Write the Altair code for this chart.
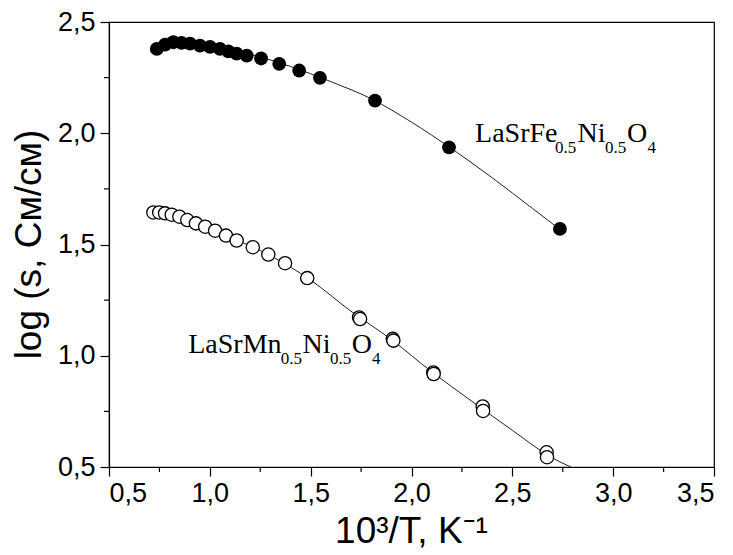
import altair as alt
import pandas as pd

# LaSrFe0.5Ni0.5O4 (filled circles)
filled_x = [0.737, 0.778, 0.819, 0.860, 0.902, 0.951, 1.001, 1.050, 1.092, 1.133,
            1.183, 1.254, 1.344, 1.443, 1.546, 1.819, 2.186, 2.736]
filled_y = [2.379, 2.398, 2.409, 2.406, 2.403, 2.394, 2.388, 2.379, 2.368, 2.358,
            2.349, 2.336, 2.312, 2.282, 2.249, 2.147, 1.937, 1.570]

# LaSrMn0.5Ni0.5O4 (open circles)
open_x = [0.720, 0.749, 0.778, 0.811, 0.849, 0.888, 0.931, 0.977, 1.026, 1.080,
          1.133, 1.213, 1.290, 1.373, 1.483, 1.740, 1.745, 1.907, 1.910, 2.108,
          2.110, 2.353, 2.355, 2.670, 2.672]
open_y = [1.644, 1.644, 1.640, 1.634, 1.625, 1.610, 1.595, 1.580, 1.562, 1.540,
          1.518, 1.488, 1.455, 1.416, 1.349, 1.172, 1.165, 1.076, 1.068, 0.925,
          0.918, 0.772, 0.752, 0.566, 0.544]

# fitted curves
fit1_x = [0.737, 0.85, 1.0, 1.2, 1.4, 1.6, 1.8, 2.0, 2.2, 2.4, 2.6, 2.74]
fit1_y = [2.392, 2.405, 2.392, 2.355, 2.300, 2.232, 2.155, 2.050, 1.930, 1.800, 1.662, 1.565]
fit2_x = [0.72, 0.9, 1.1, 1.3, 1.5, 1.7, 1.9, 2.1, 2.3, 2.5, 2.7, 2.79]
fit2_y = [1.645, 1.607, 1.533, 1.450, 1.340, 1.200, 1.073, 0.928, 0.795, 0.665, 0.540, 0.500]

x_major = [0.5, 1.0, 1.5, 2.0, 2.5, 3.0, 3.5]
y_major = [0.5, 1.0, 1.5, 2.0, 2.5]
x_minor = [0.75, 1.25, 1.75, 2.25, 2.75, 3.25]
y_minor = [0.75, 1.25, 1.75, 2.25]

# label segments: text, x, y, kind
lab_text = ["LaSrFe", "0.5", "Ni", "0.5", "O", "4",
            "LaSrMn", "0.5", "Ni", "0.5", "O", "4"]
lab_x = [2.315, 2.712, 2.823, 2.960, 3.069, 3.170,
         0.893, 1.352, 1.460, 1.596, 1.704, 1.804]
lab_y = [1.960, 1.910, 1.960, 1.910, 1.960, 1.910,
         1.012, 0.962, 1.012, 0.962, 1.012, 0.962]
lab_kind = ["main", "sub", "main", "sub", "main", "sub",
            "main", "sub", "main", "sub", "main", "sub"]

df_f = pd.DataFrame({"x": filled_x, "y": filled_y})
df_o = pd.DataFrame({"x": open_x, "y": open_y})
df_f1 = pd.DataFrame({"x": fit1_x, "y": fit1_y})
df_f2 = pd.DataFrame({"x": fit2_x, "y": fit2_y})
df_xm = pd.DataFrame({"x": x_minor})
df_ym = pd.DataFrame({"y": y_minor})
df_lab = pd.DataFrame({"t": lab_text, "x": lab_x, "y": lab_y, "k": lab_kind})

lbl = "replace(format(datum.value, '.1f'), '.', ',')"
xscale = alt.Scale(domain=[0.5, 3.5], nice=False, zero=False)
yscale = alt.Scale(domain=[0.5, 2.5], nice=False, zero=False)

x_axis = alt.Axis(values=x_major, labelExpr=lbl, title="10³/T, K⁻¹",
                  grid=False, tickSize=9, tickColor="black", tickWidth=1.2,
                  domainColor="black", domainWidth=1.2,
                  labelFont="Liberation Sans", labelFontSize=27, labelColor="black",
                  labelPadding=4,
                  titleFont="Liberation Sans", titleFontSize=37, titleFontWeight="normal",
                  titleColor="black", titleX=302, titleY=75, titleBaseline="alphabetic")
y_axis = alt.Axis(values=y_major, labelExpr=lbl, title="log (s, См/см)",
                  grid=False, tickSize=9, tickColor="black", tickWidth=1.2,
                  domainColor="black", domainWidth=1.2,
                  labelFont="Liberation Sans", labelFontSize=27, labelColor="black",
                  labelPadding=5,
                  titleFont="Liberation Sans", titleFontSize=37, titleFontWeight="normal",
                  titleColor="black", titleX=-80, titleY=222,
                  titleBaseline="middle", titleAlign="center")

X = alt.X("x:Q", scale=xscale, axis=x_axis)
Y = alt.Y("y:Q", scale=yscale, axis=y_axis)

fit1 = alt.Chart(df_f1).mark_line(color="#222222", strokeWidth=1, interpolate="monotone").encode(x=X, y=Y)
fit2 = alt.Chart(df_f2).mark_line(color="#222222", strokeWidth=1, interpolate="monotone", clip=True).encode(x=X, y=Y)
pts_f = alt.Chart(df_f).mark_point(shape="circle", filled=True, color="black", size=190, opacity=1).encode(x=X, y=Y)
pts_o = alt.Chart(df_o).mark_point(shape="circle", filled=True, fill="white", stroke="black",
                                   strokeWidth=1.3, size=175, opacity=1, fillOpacity=1).encode(x=X, y=Y)

xminor = alt.Chart(df_xm).mark_rule(color="black", strokeWidth=1.2).encode(
    x=X, y=alt.value(445), y2=alt.value(450))
yminor = alt.Chart(df_ym).mark_rule(color="black", strokeWidth=1.2).encode(
    y=Y, x=alt.value(-5), x2=alt.value(0))

txt_main = alt.Chart(df_lab).transform_filter(alt.datum.k == "main").mark_text(
    font="Liberation Serif", fontSize=28, align="left", baseline="alphabetic", color="black"
).encode(x=X, y=Y, text="t:N")
txt_sub = alt.Chart(df_lab).transform_filter(alt.datum.k == "sub").mark_text(
    font="Liberation Serif", fontSize=17, align="left", baseline="alphabetic", color="black"
).encode(x=X, y=Y, text="t:N")

chart = alt.layer(fit1, fit2, pts_f, pts_o, xminor, yminor, txt_main, txt_sub).properties(
    width=605, height=445,
    autosize=alt.AutoSizeParams(type="none"),
    padding={"left": 101, "top": 14, "right": 11, "bottom": 88},
).configure_view(stroke="black", strokeWidth=1.2)

chart.save("out.html", embed_options={"renderer": "svg", "actions": False})
